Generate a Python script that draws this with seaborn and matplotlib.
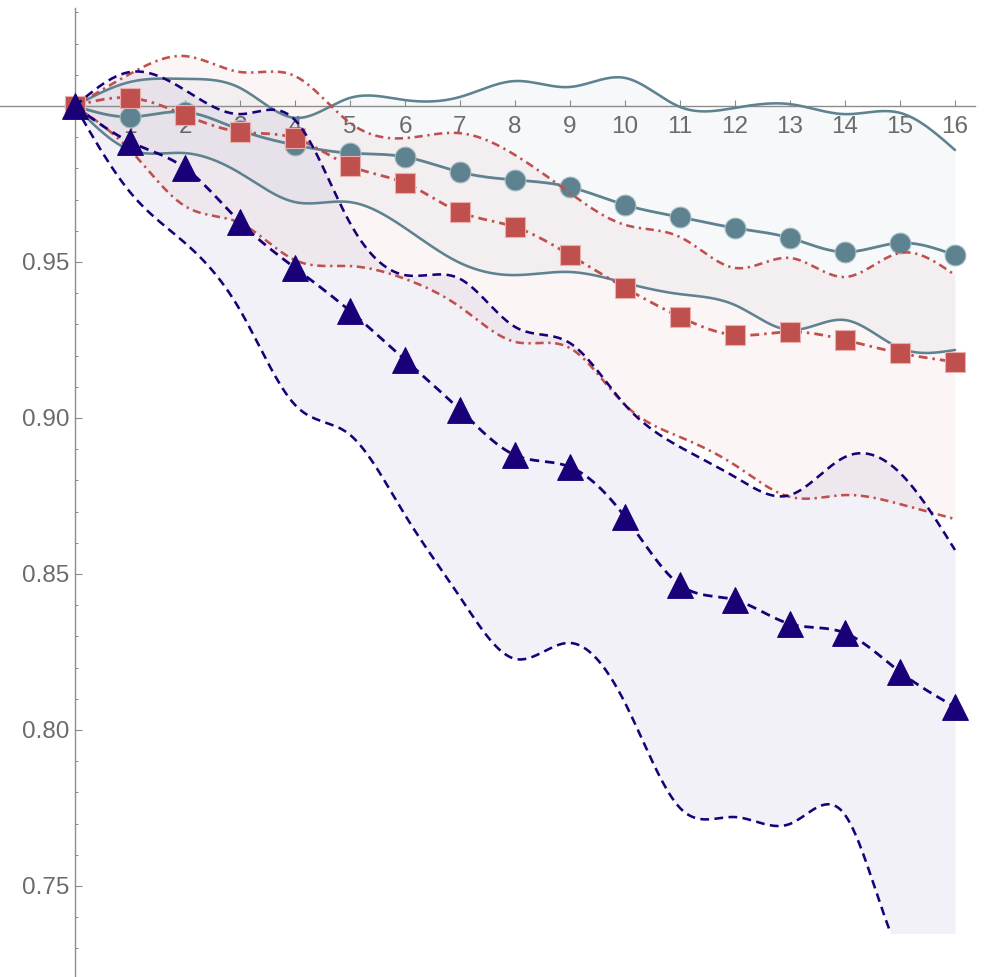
import numpy as np
import pandas as pd
import seaborn as sns
import matplotlib.pyplot as plt
from matplotlib.patches import Rectangle

# values
steps = list(range(17))

teal_mid = [1.0, 0.9965, 0.9981, 0.9923, 0.9875, 0.9849, 0.9837, 0.9788, 0.9763,
            0.9740, 0.9683, 0.9644, 0.9609, 0.9577, 0.9532, 0.9561, 0.9522]
teal_lo = [1.0, 0.9859, 0.9849, 0.9785, 0.9692, 0.9692, 0.9609, 0.9497, 0.9458,
           0.9468, 0.9433, 0.9397, 0.9362, 0.9282, 0.9314, 0.9224, 0.9218]
teal_hi = [1.0, 1.0077, 1.0087, 1.0058, 0.9962, 1.0026, 1.0019, 1.0029, 1.0080,
           1.0061, 1.0090, 0.9997, 0.9994, 1.0006, 0.9974, 0.9978, 0.9859]

red_mid = [1.0, 1.0026, 0.9971, 0.9917, 0.9897, 0.9808, 0.9753, 0.9660, 0.9612,
           0.9522, 0.9417, 0.9324, 0.9266, 0.9276, 0.9250, 0.9208, 0.9180]
red_lo = [1.0, 0.9859, 0.9679, 0.9625, 0.9506, 0.9487, 0.9446, 0.9356, 0.9244,
          0.9224, 0.9042, 0.8939, 0.8849, 0.8747, 0.8753, 0.8724, 0.8676]
red_hi = [1.0, 1.0103, 1.0160, 1.0109, 1.0096, 0.9946, 0.9897, 0.9913, 0.9843,
          0.9721, 0.9619, 0.9580, 0.9481, 0.9513, 0.9452, 0.9529, 0.9458]

navy_mid = [1.0, 0.9885, 0.9801, 0.9628, 0.9481, 0.9343, 0.9186, 0.9026, 0.8881,
            0.8843, 0.8683, 0.8465, 0.8417, 0.8340, 0.8311, 0.8186, 0.8074]
navy_lo = [1.0, 0.9724, 0.9561, 0.9346, 0.9042, 0.8946, 0.8689, 0.8426, 0.8228,
           0.8279, 0.8087, 0.7750, 0.7721, 0.7699, 0.7728, 0.7280, 0.7200]
navy_hi = [1.0, 1.0109, 1.0051, 0.9974, 0.9955, 0.9625, 0.9458, 0.9446, 0.9292,
           0.9240, 0.9042, 0.8907, 0.8811, 0.8753, 0.8875, 0.8824, 0.8577]

y_floor = 0.735  # plot range floor that clips the lowest band


def smooth(x, y, n=40):
    '''natural cubic spline through the read values, for drawing only'''
    x = np.asarray(x, float)
    y = np.asarray(y, float)
    m = len(x)
    h = np.diff(x)
    A = np.zeros((m, m))
    b = np.zeros(m)
    A[0, 0] = A[-1, -1] = 1
    for i in range(1, m - 1):
        A[i, i - 1] = h[i - 1]
        A[i, i] = 2 * (h[i - 1] + h[i])
        A[i, i + 1] = h[i]
        b[i] = 3 * ((y[i + 1] - y[i]) / h[i] - (y[i] - y[i - 1]) / h[i - 1])
    c = np.linalg.solve(A, b)
    bc = (y[1:] - y[:-1]) / h - h * (2 * c[:-1] + c[1:]) / 3
    d = (c[1:] - c[:-1]) / (3 * h)
    xs = np.linspace(x[0], x[-1], (m - 1) * n + 1)
    idx = np.clip(np.searchsorted(x, xs, side='right') - 1, 0, m - 2)
    dx = xs - x[idx]
    ys = y[idx] + bc[idx] * dx + c[idx] * dx ** 2 + d[idx] * dx ** 3
    return xs, ys


sns.set_theme(style='white')
plt.rcParams['font.family'] = ['Liberation Sans', 'DejaVu Sans']

fig = plt.figure(figsize=(9.84, 9.77), dpi=100)
ax = fig.add_axes([0, 0, 1, 1])
ax.set_xlim(-75 / 55, 909 / 55)
ax.set_ylim(1 - 871 / 3120, 1 + 106 / 3120)

series = [
    # colour, fill alpha, mid, lo, hi, linestyle, marker, marker size, edge
    ('#5e828f', 0.05, teal_mid, teal_lo, teal_hi, '-', 'o', 15, '#a9c0c7'),
    ('#c0504d', 0.05, red_mid, red_lo, red_hi, (0, (3.2, 1.8, 0.9, 1.8)), 's', 15, '#eab0ae'),
    ('#1a0078', 0.055, navy_mid, navy_lo, navy_hi, (0, (3.4, 2.1)), '^', 18.5, '#1a0078'),
]

clip = Rectangle((-5, y_floor), 30, 1, transform=ax.transData, visible=False)
ax.add_patch(clip)

for k, (col, alpha, mid, lo, hi, ls, mk, ms, ec) in enumerate(series):
    z = 2 + k
    xs, ylo = smooth(steps, lo)
    _, yhi = smooth(steps, hi)
    _, ymid = smooth(steps, mid)
    band = ax.fill_between(xs, ylo, yhi, color=col, alpha=alpha, lw=0, zorder=1)
    band.set_clip_path(clip)
    for yy in (ylo, yhi):
        sns.lineplot(x=xs, y=yy, ax=ax, color=col, linewidth=1.85, linestyle=ls,
                     zorder=z, estimator=None, sort=False)
        ax.lines[-1].set_clip_path(clip)
    sns.lineplot(x=xs, y=ymid, ax=ax, color=col, linewidth=2.0, linestyle=ls,
                 zorder=z, estimator=None, sort=False)
    pts = pd.DataFrame({'step': steps, 'value': mid})
    sns.scatterplot(data=pts, x='step', y='value', ax=ax, marker=mk, s=ms ** 2,
                    color=col, edgecolor=ec, linewidth=0.8, zorder=z + 0.5)

# Mathematica-like crossing axes
axis_col = '#8c8c8c'
for side in ('top', 'right'):
    ax.spines[side].set_visible(False)
ax.spines['bottom'].set_position(('data', 1.0))
ax.spines['left'].set_position(('data', 0.0))
ax.spines['left'].set_bounds(1 - 871 / 3120, 1 + 98 / 3120)
ax.spines['bottom'].set_bounds(-75 / 55, 900 / 55)
for side in ('bottom', 'left'):
    ax.spines[side].set_color(axis_col)
    ax.spines[side].set_linewidth(1.0)
    ax.spines[side].set_zorder(1.5)

ax.set_xticks(range(1, 17))
ax.set_xticklabels([str(i) for i in range(1, 17)])
ax.set_yticks([0.75, 0.80, 0.85, 0.90, 0.95])
ax.set_yticklabels(['0.75', '0.80', '0.85', '0.90', '0.95'])
ax.set_yticks(np.arange(0.73, 1.035, 0.01).round(2), minor=True)
ax.tick_params(axis='x', direction='in', length=4.3, width=0.8, color=axis_col,
               labelsize=17.5, labelcolor='#6b6b6b', pad=7, bottom=True)
ax.tick_params(axis='y', which='major', direction='in', length=5, width=0.8,
               color=axis_col, labelsize=17.5, labelcolor='#6b6b6b', pad=4, left=True)
ax.tick_params(axis='y', which='minor', direction='in', length=2.5, width=0.7,
               color=axis_col, left=True)
ax.set_xlabel('')
ax.set_ylabel('')
ax.grid(False)
ax.set_axisbelow(True)
ax.set_facecolor('white')

fig.savefig('out.png', dpi=100)
